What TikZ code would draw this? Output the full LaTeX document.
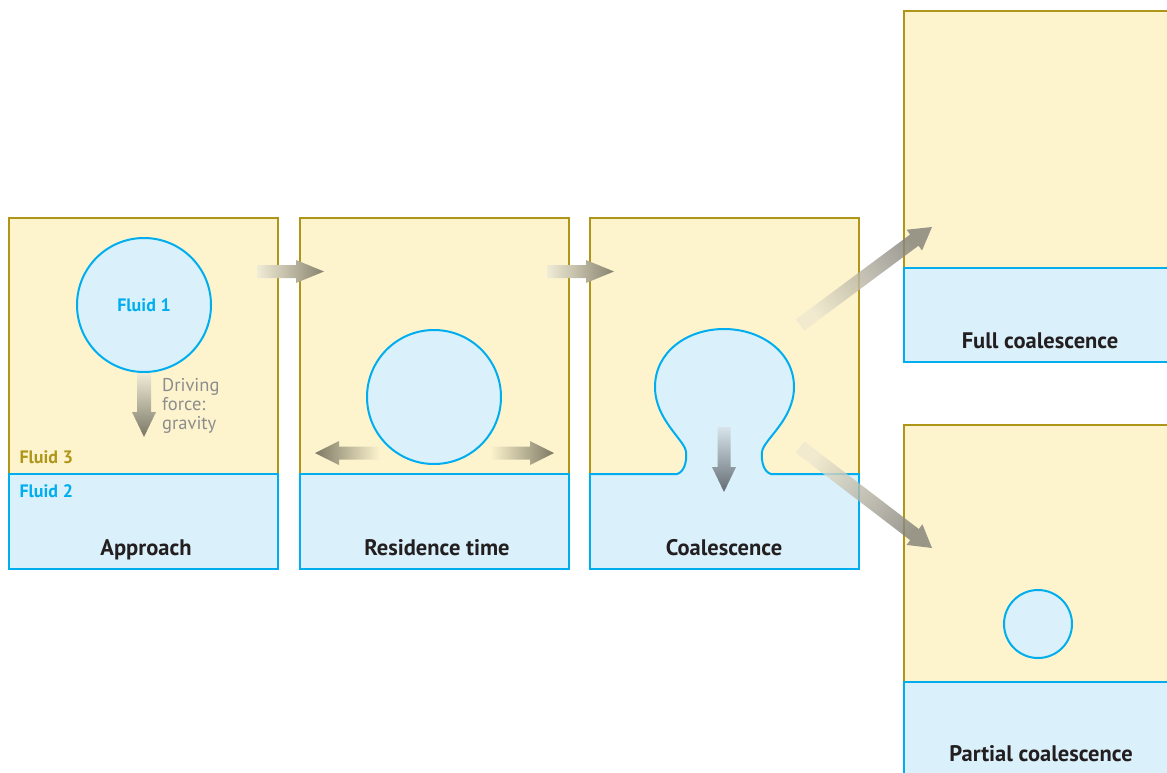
\documentclass[tikz,border=0pt]{standalone}
\usepackage{fontspec}
\setmainfont{PT Sans}
\definecolor{ybg}{RGB}{253,244,206}
\definecolor{ybd}{RGB}{176,150,24}
\definecolor{bbg}{RGB}{218,240,251}
\definecolor{bbd}{RGB}{0,174,239}
\definecolor{txt}{RGB}{35,31,32}
\definecolor{gtxt}{RGB}{140,140,140}
\definecolor{arrdark}{RGB}{135,131,110}
\definecolor{arrlight}{RGB}{240,236,214}
\definecolor{diagtail}{RGB}{238,232,208}
\definecolor{diagtip}{RGB}{128,126,118}
\begin{document}
\begin{tikzpicture}[x=1pt,y=-1pt,
  upper/.style={fill=ybg, draw=ybd, line width=2pt},
  lower/.style={fill=bbg, draw=bbd, line width=2pt},
  drop/.style={fill=bbg, draw=bbd, line width=2pt},
  stagelabel/.style={font=\bfseries\fontsize{22.5}{26}\selectfont, text=txt, anchor=base},
  fluidlabel/.style={font=\bfseries\fontsize{18}{21}\selectfont},
  diagarrow/.style={opacity=0.8, top color=diagtail, bottom color=diagtip},
]
\useasboundingbox (0,0) rectangle (1167,772);
\clip (0,0) rectangle (1167,772);

% panel 1
\draw[upper] (9,218) rectangle (278,474);
\draw[lower] (9,474) rectangle (278,569);
% panel 2
\draw[upper] (300,218) rectangle (569,474);
\draw[lower] (300,474) rectangle (569,569);
% panel 3
\draw[upper] (590,218) rectangle (859,474);
\draw[lower] (590,474) rectangle (859,569);
% full coalescence panel
\draw[upper] (904,11) rectangle (1180,268);
\draw[lower] (904,268) rectangle (1180,362);
% partial coalescence panel
\draw[upper] (904,425) rectangle (1180,682);
\draw[lower] (904,682) rectangle (1180,790);

% droplets
\node[drop, circle, minimum size=134pt, inner sep=0pt, fluidlabel, text=bbd] (d1) at (144,305) {Fluid 1};
\node[drop, circle, minimum size=134pt, inner sep=0pt] (d2) at (434,397) {};
\node[drop, circle, minimum size=68pt, inner sep=0pt] (d3) at (1038,624) {};

% coalescing droplet
\fill[bbg] (677,474) .. controls (684,472) and (687,462) .. (686,452)
  .. controls (685,440) and (655,420) .. (655,387)
  .. controls (655,352) and (687,329) .. (724,329)
  .. controls (761,329) and (794,352) .. (794,387)
  .. controls (794,420) and (763,440) .. (762,452)
  .. controls (761,462) and (764,472) .. (771,474)
  -- (771,478) -- (677,478) -- cycle;
\draw[bbd, line width=2pt] (591,474) -- (677,474) .. controls (684,472) and (687,462) .. (686,452)
  .. controls (685,440) and (655,420) .. (655,387)
  .. controls (655,352) and (687,329) .. (724,329)
  .. controls (761,329) and (794,352) .. (794,387)
  .. controls (794,420) and (763,440) .. (762,452)
  .. controls (761,462) and (764,472) .. (771,474) -- (858,474);

% arrows between panels
\shade[left color=arrlight, right color=arrdark] (257,265) -- (296,265) -- (296,260) -- (324,271.5) -- (296,283) -- (296,278) -- (257,278) -- cycle;
\shade[left color=arrlight, right color=arrdark] (547,265) -- (586,265) -- (586,260) -- (614,271.5) -- (586,283) -- (586,278) -- (547,278) -- cycle;

% gravity arrow
\shade[top color=arrlight, bottom color={rgb,255:red,122;green,119;blue,102}] (137,373) -- (151,373) -- (151,412) -- (156,412) -- (144,437) -- (132,412) -- (137,412) -- cycle;

% residence arrows
\shade[left color={rgb,255:red,125;green,121;blue,100}, right color=ybg] (380,446.5) -- (339,446.5) -- (339,441) -- (315,453) -- (339,465) -- (339,459.5) -- (380,459.5) -- cycle;
\shade[left color=ybg, right color={rgb,255:red,125;green,121;blue,100}] (490,446.5) -- (530,446.5) -- (530,441) -- (554,453) -- (530,465) -- (530,459.5) -- (490,459.5) -- cycle;

% coalescence arrow
\shade[top color={rgb,255:red,215;green,228;blue,236}, bottom color={rgb,255:red,100;green,108;blue,115}] (717.5,427) -- (730.5,427) -- (730.5,467) -- (736,467) -- (724,492) -- (712,467) -- (717.5,467) -- cycle;

% diagonal arrows
\shade[diagarrow, shading angle=126.6]
  (795.8,319.4) -- (910.1,234.5) -- (906.6,229.7) -- (932,227) -- (922.0,250.5) -- (918.5,245.7) -- (804.2,330.6) -- cycle;
\shade[diagarrow, shading angle=52.6]
  (804.3,441.4) -- (918.8,529.0) -- (922.4,524.3) -- (932,548) -- (906.6,544.9) -- (910.2,540.2) -- (795.7,452.6) -- cycle;

% texts
\node[fluidlabel, text=ybd, anchor=west] (f3) at (16,457) {Fluid 3};
\node[fluidlabel, text=bbd, anchor=west] (f2) at (16,491) {Fluid 2};
\node[anchor=north west, align=left, text=gtxt, font=\fontsize{18.5}{19}\selectfont, inner sep=0pt] (df) at (162,378) {Driving\\force:\\gravity};
\node[stagelabel] (l1) at (146,555) {Approach};
\node[stagelabel] (l2) at (437,555) {Residence time};
\node[stagelabel] (l3) at (724,555) {Coalescence};
\node[stagelabel] (l4) at (1040,348) {Full coalescence};
\node[stagelabel] (l5) at (1041,761) {Partial coalescence};
\end{tikzpicture}
\end{document}
